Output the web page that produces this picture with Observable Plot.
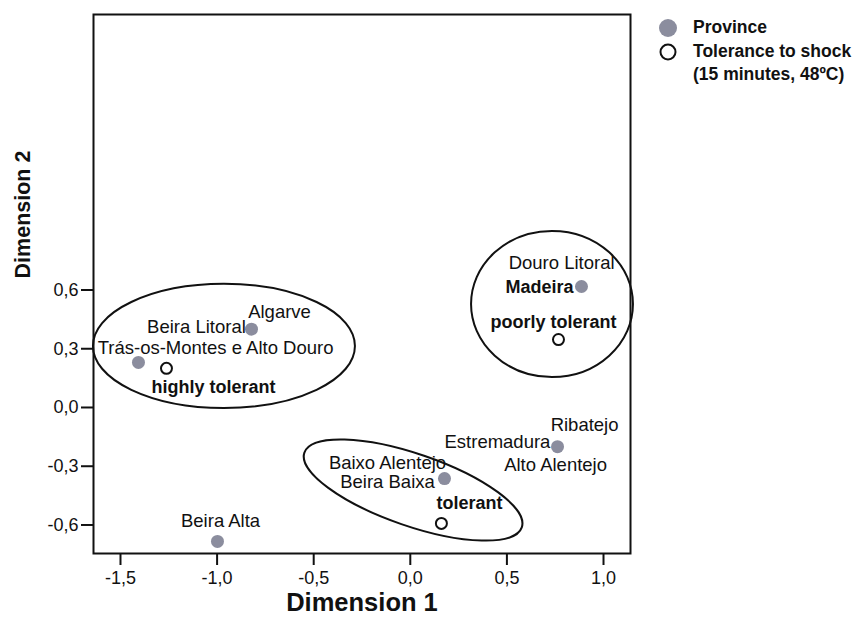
<!DOCTYPE html>
<html>
<head>
<meta charset="utf-8">
<script src="https://cdn.jsdelivr.net/npm/d3@7"></script>
<script src="https://cdn.jsdelivr.net/npm/@observablehq/plot@0.6"></script>
<style>
  html, body { margin: 0; padding: 0; background: #fff; }
  #wrap { position: relative; width: 859px; height: 623px; font-family: "Liberation Sans", Arial, sans-serif; }
  #legend { position: absolute; left: 657px; top: 16px; font-size: 17.5px; font-weight: bold; color: #111; line-height: 23.5px; }
  #legend .row { display: flex; align-items: center; white-space: nowrap; }
  #legend svg { width: 36px; height: 23.5px; flex: none; }
  #legend .indent { padding-left: 36px; }
</style>
</head>
<body>
<div id="wrap">
  <div id="chart"></div>
  <div id="legend"></div>
</div>
<script>
// ---- Data ----
const provinceGroups = ["Trás-os-Montes e Alto Douro", "Beira Litoral, Algarve", "Beira Alta", "Baixo Alentejo, Beira Baixa", "Estremadura, Ribatejo, Alto Alentejo", "Douro Litoral, Madeira"];
const provinceDim1 = [-1.407, -0.822, -0.998, 0.177, 0.762, 0.886];
const provinceDim2 = [0.23, 0.40, -0.684, -0.363, -0.20, 0.618];

const toleranceNames = ["highly tolerant", "tolerant", "poorly tolerant"];
const toleranceDim1 = [-1.262, 0.161, 0.767];
const toleranceDim2 = [0.20, -0.592, 0.347];

// Point labels (text, position of label centre in dimension units, bold flag)
const labelTexts = ["Algarve", "Beira Litoral", "Trás-os-Montes e Alto Douro", "Beira Alta",
  "Baixo Alentejo", "Beira Baixa", "Estremadura", "Ribatejo", "Alto Alentejo",
  "Douro Litoral", "Madeira",
  "highly tolerant", "tolerant", "poorly tolerant"];
const labelDim1 = [-0.677, -1.107, -1.008, -0.982, -0.118, -0.118, 0.451, 0.902, 0.752, 0.783, 0.669, -1.019, 0.306, 0.741];
const labelDim2 = [0.485, 0.409, 0.301, -0.582, -0.286, -0.383, -0.179, -0.092, -0.296, 0.735, 0.613, 0.102, -0.490, 0.434];
const labelBold = [false, false, false, false, false, false, false, false, false, false, true, true, true, true];

// Cluster ellipses (centre, semi-axes in dimension units, rotation in degrees)
const ellipseCx = [-0.962, 0.736, 0.017];
const ellipseCy = [0.312, 0.526, -0.424];
const ellipseRx = [0.678, 0.419, 0.595];
const ellipseRy = [0.317, 0.373, 0.184];
const ellipseAngle = [0, 0, 19];

const xTicks = [-1.5, -1.0, -0.5, 0.0, 0.5, 1.0];
const yTicks = [-0.6, -0.3, 0.0, 0.3, 0.6];
const xDomain = [-1.6397, 1.1397];
const yDomain = [-0.7457, 2.007];

// ---- Build tables ----
const provinces = provinceGroups.map((g, i) => ({group: g, d1: provinceDim1[i], d2: provinceDim2[i]}));
const tolerances = toleranceNames.map((n, i) => ({name: n, d1: toleranceDim1[i], d2: toleranceDim2[i]}));
const labels = labelTexts.map((t, i) => ({text: t, d1: labelDim1[i], d2: labelDim2[i], bold: labelBold[i]}));

const fmt = d => d3.format(".1f")(d).replace(".", ",").replace("\u2212", "-");

function ellipseMark(index, scales) {
  const ns = "http://www.w3.org/2000/svg";
  const g = document.createElementNS(ns, "g");
  for (let i = 0; i < ellipseCx.length; i++) {
    const cx = scales.x(ellipseCx[i]);
    const cy = scales.y(ellipseCy[i]);
    const rx = Math.abs(scales.x(ellipseCx[i] + ellipseRx[i]) - cx);
    const ry = Math.abs(scales.y(ellipseCy[i] + ellipseRy[i]) - cy);
    const e = document.createElementNS(ns, "ellipse");
    e.setAttribute("cx", cx);
    e.setAttribute("cy", cy);
    e.setAttribute("rx", rx);
    e.setAttribute("ry", ry);
    e.setAttribute("transform", `rotate(${ellipseAngle[i]} ${cx} ${cy})`);
    e.setAttribute("fill", "none");
    e.setAttribute("stroke", "#111");
    e.setAttribute("stroke-width", 2);
    g.appendChild(e);
  }
  return g;
}

const chart = Plot.plot({
  width: 859,
  height: 623,
  marginLeft: 93,
  marginRight: 229,
  marginTop: 14,
  marginBottom: 70,
  style: {fontFamily: "'Liberation Sans', Arial, sans-serif", background: "#fff", color: "#111"},
  x: {domain: xDomain},
  y: {domain: yDomain},
  marks: [
    ellipseMark,
    Plot.axisX({ticks: xTicks, tickFormat: fmt, tickSize: 12, tickPadding: 6, fontSize: 18, strokeWidth: 2, stroke: "#111", fill: "#111", label: null}),
    Plot.axisY({ticks: yTicks, tickFormat: fmt, tickSize: 12, tickPadding: 3, fontSize: 18, strokeWidth: 2, stroke: "#111", fill: "#111", label: null}),
    Plot.frame({stroke: "#111", strokeWidth: 2}),
    Plot.dot(provinces, {x: "d1", y: "d2", r: 6.5, fill: "#8b8d9e", stroke: "none"}),
    Plot.dot(tolerances, {x: "d1", y: "d2", r: 5.5, fill: "#fff", stroke: "#111", strokeWidth: 2}),
    Plot.text(labels.filter(d => !d.bold), {x: "d1", y: "d2", text: "text", fontSize: 18.5, fill: "#111", textAnchor: "middle"}),
    Plot.text(labels.filter(d => d.bold), {x: "d1", y: "d2", text: "text", fontSize: 18, fontWeight: "bold", fill: "#111", textAnchor: "middle"}),
    Plot.text(["Dimension 1"], {frameAnchor: "bottom", dy: 57, fontSize: 25.5, fontWeight: "bold", fill: "#111", textAnchor: "middle"}),
    Plot.text(["Dimension 2"], {frameAnchor: "top-left", dx: -79, dy: 200, rotate: -90, fontSize: 21.5, fontWeight: "bold", fill: "#111", textAnchor: "middle"})
  ]
});
document.getElementById("chart").appendChild(chart);

// Legend
const legend = document.getElementById("legend");
legend.innerHTML = `
  <div class="row"><svg><circle cx="11" cy="12" r="9" fill="#8b8d9e"/></svg><span>Province</span></div>
  <div class="row"><svg><circle cx="11" cy="12" r="7.5" fill="#fff" stroke="#111" stroke-width="2"/></svg><span>Tolerance to shock</span></div>
  <div class="row indent"><span>(15 minutes, 48ºC)</span></div>`;
</script>
</body>
</html>
